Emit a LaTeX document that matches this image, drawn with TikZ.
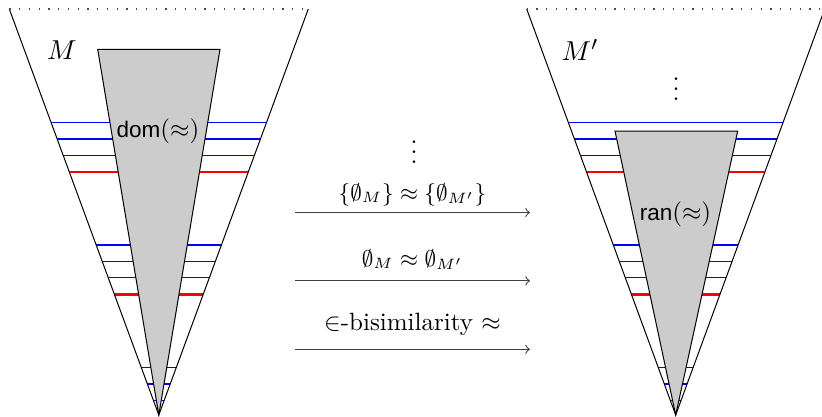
\documentclass[tikz,border=0pt]{standalone}
\usepackage{fontspec}
\newfontfamily\sansf{Liberation Sans}
\usetikzlibrary{calc}
\definecolor{lineblue}{RGB}{0,0,255}
\begin{document}
\begin{tikzpicture}[x=0.4pt,y=-0.4pt,
  edge/.style={line width=0.4pt, black},
  topdots/.style={line width=0.5pt, black!70, dash pattern=on 0.5pt off 3.4pt},
  greyreg/.style={fill=black!20, draw=black, line width=0.4pt},
  hblue/.style={color=lineblue, line width=0.6pt},
  hred/.style={color=red, line width=1.1pt},
  arr/.style={->, line width=0.45pt, draw=black!75},
  sanslab/.style={inner sep=0pt, text=black},
  mathlab/.style={inner sep=0pt, text=black},
  arrlab/.style={inner sep=0pt, text=black, anchor=base}]
\useasboundingbox (0,0) rectangle (822,416);
% triangle corners
\coordinate (LA) at (158.8,415);
\coordinate (LTL) at (9.3,9);
\coordinate (LTR) at (308.3,9);
\coordinate (RA) at (675.7,415);
\coordinate (RTL) at (526.7,9);
\coordinate (RTR) at (824.7,9);
% horizontal lines (left model)
\draw[hblue] ($(LA)!0.7199!(LTL)$) -- ($(LA)!0.7199!(LTR)$);
\draw[hblue] ($(LA)!0.6798!(LTL)$) -- ($(LA)!0.6798!(LTR)$);
\draw[hblue] ($(LA)!0.6396!(LTL)$) -- ($(LA)!0.6396!(LTR)$);
\draw[hred]  ($(LA)!0.5985!(LTL)$) -- ($(LA)!0.5985!(LTR)$);
\draw[hblue] ($(LA)!0.4187!(LTL)$) -- ($(LA)!0.4187!(LTR)$);
\draw[hblue] ($(LA)!0.3786!(LTL)$) -- ($(LA)!0.3786!(LTR)$);
\draw[hblue] ($(LA)!0.3384!(LTL)$) -- ($(LA)!0.3384!(LTR)$);
\draw[hred]  ($(LA)!0.2975!(LTL)$) -- ($(LA)!0.2975!(LTR)$);
\draw[hblue] ($(LA)!0.1165!(LTL)$) -- ($(LA)!0.1165!(LTR)$);
\draw[hblue] ($(LA)!0.0764!(LTL)$) -- ($(LA)!0.0764!(LTR)$);
\draw[hblue] ($(LA)!0.0362!(LTL)$) -- ($(LA)!0.0362!(LTR)$);
% horizontal lines (right model)
\draw[hblue] ($(RA)!0.7199!(RTL)$) -- ($(RA)!0.7199!(RTR)$);
\draw[hblue] ($(RA)!0.6798!(RTL)$) -- ($(RA)!0.6798!(RTR)$);
\draw[hblue] ($(RA)!0.6396!(RTL)$) -- ($(RA)!0.6396!(RTR)$);
\draw[hred]  ($(RA)!0.5985!(RTL)$) -- ($(RA)!0.5985!(RTR)$);
\draw[hblue] ($(RA)!0.4187!(RTL)$) -- ($(RA)!0.4187!(RTR)$);
\draw[hblue] ($(RA)!0.3786!(RTL)$) -- ($(RA)!0.3786!(RTR)$);
\draw[hblue] ($(RA)!0.3384!(RTL)$) -- ($(RA)!0.3384!(RTR)$);
\draw[hred]  ($(RA)!0.2975!(RTL)$) -- ($(RA)!0.2975!(RTR)$);
\draw[hblue] ($(RA)!0.1165!(RTL)$) -- ($(RA)!0.1165!(RTR)$);
\draw[hblue] ($(RA)!0.0764!(RTL)$) -- ($(RA)!0.0764!(RTR)$);
\draw[hblue] ($(RA)!0.0362!(RTL)$) -- ($(RA)!0.0362!(RTR)$);
% grey regions
\filldraw[greyreg] (97.7,49.3) -- (220,49.3) -- (LA) -- cycle;
\filldraw[greyreg] (615,131) -- (737.7,131) -- (RA) -- cycle;
% triangles
\draw[edge] (LTL) -- (LA) -- (LTR);
\draw[edge] (RTL) -- (RA) -- (RTR);
\draw[topdots] (LTL) -- (LTR);
\draw[topdots] (RTL) -- (RTR);
% labels
\node[mathlab, font=\fontsize{11}{13}\selectfont] (M) at (62,50) {$M$};
\node[mathlab, font=\fontsize{11}{13}\selectfont] (Mp) at (580,50) {$M'$};
\node[sanslab] (dom) at (158,131) {{\sansf\fontsize{9}{11}\selectfont dom}$(\approx)$};
\node[sanslab] (ran) at (675.5,214) {{\sansf\fontsize{9}{11}\selectfont ran}$(\approx)$};
\node[mathlab, anchor=base] (vd1) at (414,163) {\smash{$\vdots$}};
\node[mathlab, anchor=base] (vd2) at (676,100) {\smash{$\vdots$}};
% arrows
\coordinate (a1s) at (295,212.5); \coordinate (a1e) at (530,212.5);
\coordinate (a2s) at (295,280.8); \coordinate (a2e) at (530,280.8);
\coordinate (a3s) at (295,349.3); \coordinate (a3e) at (530,349.3);
\draw[arr] (a1s) -- node[arrlab, yshift=4.9pt, font=\fontsize{9}{11}\selectfont] (l1) {$\{\emptyset_M\} \approx \{\emptyset_{M'}\}$} (a1e);
\draw[arr] (a2s) -- node[arrlab, yshift=5.9pt, font=\fontsize{9}{11}\selectfont] (l2) {$\emptyset_M \approx \emptyset_{M'}$} (a2e);
\draw[arr] (a3s) -- node[arrlab, yshift=7.7pt] (l3) {$\in$-bisimilarity $\approx$} (a3e);
\end{tikzpicture}
\end{document}
